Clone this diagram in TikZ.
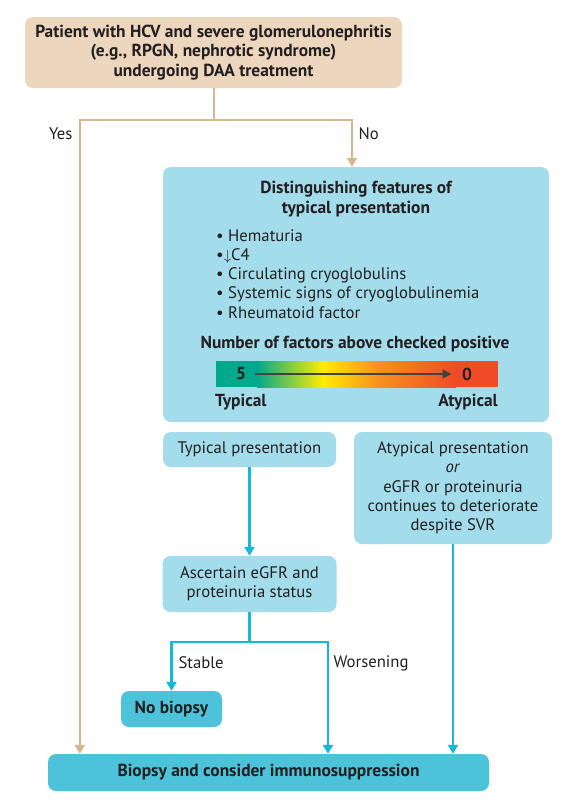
\documentclass[tikz,border=0pt]{standalone}
\usepackage{fontspec}
\setmainfont{PT Sans}
\usetikzlibrary{arrows.meta}
\definecolor{patienttan}{RGB}{236,214,189}
\definecolor{linetan}{RGB}{217,182,143}
\definecolor{featblue}{RGB}{163,220,234}
\definecolor{deepblue}{RGB}{76,195,218}
\definecolor{arrowcyan}{RGB}{20,184,216}
\definecolor{inkgray}{RGB}{35,31,32}
\definecolor{scaleteal}{RGB}{0,168,142}
\definecolor{scaleyellow}{RGB}{255,237,0}
\definecolor{scaleorange}{RGB}{247,148,29}
\definecolor{scalered}{RGB}{239,75,38}

\tikzset{
  box/.style={rounded corners=8pt, inner sep=0pt, align=center, text=inkgray,
    font=\fontsize{16.7}{19.3}\selectfont},
  label/.style={text=inkgray, font=\fontsize{16.7}{19.3}\selectfont},
  boldtext/.style={font=\fontsize{17.4}{19.5}\selectfont\bfseries},
  tanline/.style={linetan, line width=2pt},
  cyanline/.style={arrowcyan, line width=2.8pt},
  tip/.style={-{Triangle[width=10pt,length=9pt]}},
}

\begin{document}
\begin{tikzpicture}[x=1pt, y=-1pt]
    \useasboundingbox (0,0) rectangle (574,800);

    % Starting patient group
    \node[box, boldtext, fill=patienttan, minimum width=377, minimum height=71]
        (patient) at (213.5,52.5) {Patient with HCV and severe glomerulonephritis\\(e.g., RPGN, nephrotic syndrome)\\undergoing DAA treatment};

    % Features of typical presentation with the scale
    \node[box, fill=featblue, minimum width=386, minimum height=255] (feat) at (356,294.5) {};
    \node[label, boldtext, align=center] (feattitle) at (356,199)
        {Distinguishing features of\\typical presentation};
    \node[label, align=left, anchor=north west, inner sep=0pt] (featlist) at (216,229)
        {\textbullet\ Hematuria\\\textbullet\smash{\raisebox{0.3pt}{\scalebox{0.85}{$\downarrow$}}}C4\\\textbullet\ Circulating cryoglobulins\\\textbullet\ Systemic signs of cryoglobulinemia\\\textbullet\ Rheumatoid factor};
    \node[label, boldtext] (scaletitle) at (355,344) {Number of factors above checked positive};
    \fill[scaleteal] (216,361) rectangle (258,387);
    \shade[left color=scaleteal, right color=scaleyellow] (257,361) rectangle (323,387);
    \shade[left color=scaleyellow, right color=scaleorange] (322,361) rectangle (376,387);
    \shade[left color=scaleorange, right color=scalered] (375,361) rectangle (456,387);
    \fill[scalered] (455,361) rectangle (498,387);
    \node[label, boldtext] (five) at (241,374) {5};
    \node[label, boldtext] (zero) at (467,374) {0};
    \draw[inkgray!85, line width=2.5pt, -{Triangle[width=9pt,length=9pt]}] (five.east) ++(6,0) -- ([xshift=-7pt]zero.west);
    \node[label, boldtext, anchor=west, inner sep=0pt] (typlabel) at (215,402.5) {Typical};
    \node[label, boldtext, anchor=east, inner sep=0pt] (atyplabel) at (498,402.5) {Atypical};

    % Presentation outcomes
    \node[box, fill=featblue, minimum width=173, minimum height=35] (typ) at (249.5,449.5) {Typical presentation};
    \node[box, fill=featblue, minimum width=198, minimum height=112] (atyp) at (453,488)
        {Atypical presentation\\\textit{or}\\eGFR or proteinuria\\continues to deteriorate\\despite SVR};
    \node[box, fill=featblue, minimum width=174, minimum height=56] (asc) at (249.5,584)
        {Ascertain eGFR and\\proteinuria status};
    \node[box, boldtext, fill=deepblue, minimum width=101, minimum height=36]
        (nob) at (171.5,709) {No biopsy};
    \node[box, boldtext, fill=deepblue, minimum width=441, minimum height=37]
        (bio) at (268.5,772.5) {Biopsy and consider immunosuppression};

    % Yes / No split
    \coordinate (split) at (213.5,120);
    \draw[tanline] (patient.south) -- (split);
    \draw[tanline, tip] (split) -| ([xshift=32pt]bio.north west);
    \draw[tanline, tip] (split) -| ([xshift=-4pt]feat.north);
    \node[label, anchor=east] (yes) at (76,134) {Yes};
    \node[label, anchor=west] (no) at (355,134) {No};

    % Cyan connectors
    \draw[cyanline, tip] (typ.south) -- (asc.north);
    \coordinate (branch) at (249.5,642);
    \draw[cyanline] (asc.south) -- (branch);
    \draw[cyanline, tip] (branch) -| (nob.north);
    \draw[cyanline, tip] (branch) -| ([xshift=59.5pt]bio.north);
    \draw[cyanline, tip] (atyp.south) -- (atyp.south |- bio.north);
    \node[label, anchor=west] (stable) at (175,663) {Stable};
    \node[label, anchor=west] (worse) at (330,663) {Worsening};
\end{tikzpicture}
\end{document}
